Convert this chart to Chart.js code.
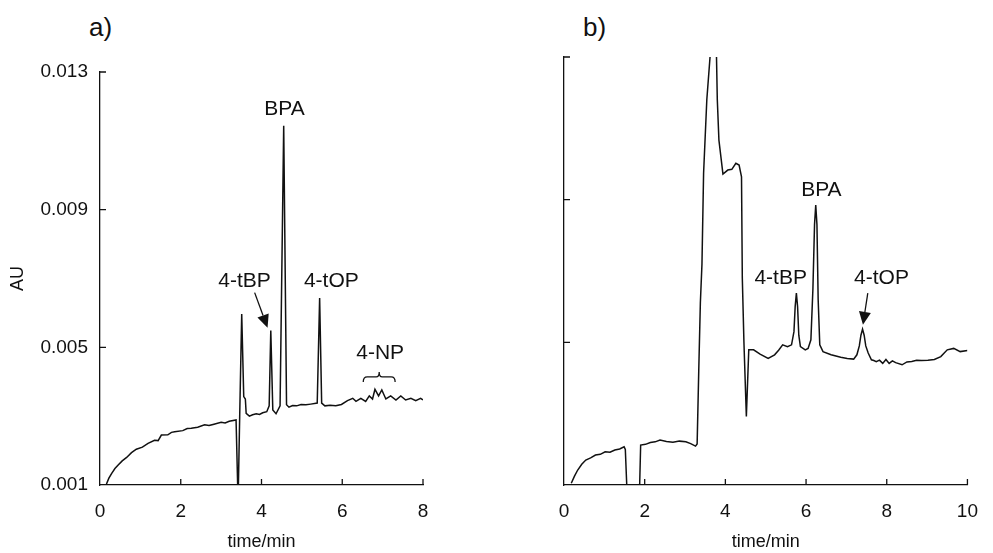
<!DOCTYPE html>
<html>
<head>
<meta charset="utf-8">
<script src="https://cdn.jsdelivr.net/npm/chart.js@4.4.1/dist/chart.umd.min.js"></script>
<style>
  body { margin: 0; background: #fff; width: 993px; height: 553px; overflow: hidden; position: relative;
         font-family: "Liberation Sans", Arial, sans-serif; }
  canvas { position: absolute; top: 0; }
  #chartA { left: 0; }
  #chartB { left: 500px; }
  .panel { position: absolute; top: 14px; font-size: 26px; line-height: 1; color: #111; }
</style>
</head>
<body>
<div class="panel" style="left:89px">a)</div>
<div class="panel" style="left:583px">b)</div>
<canvas id="chartA" width="480" height="553"></canvas>
<canvas id="chartB" width="493" height="553"></canvas>
<script>
// panel a: chromatogram, time (min) vs absorbance (AU)
const aTime = [0.16, 0.22, 0.29, 0.37, 0.45, 0.55, 0.66, 0.78, 0.90, 1.05, 1.19, 1.35, 1.44, 1.52, 1.68, 1.77, 1.85, 2.05,
  2.16, 2.26, 2.42, 2.59, 2.70, 2.80, 3.00, 3.10, 3.20, 3.37,
  3.42, 3.46, 3.51, 3.56, 3.60, 3.62, 3.70, 3.78, 3.87, 3.95, 4.03, 4.13, 4.19, 4.23, 4.28, 4.36, 4.46, 4.55, 4.62, 4.68,
  4.77, 4.87, 4.98, 5.10, 5.22, 5.38, 5.44, 5.49, 5.57, 5.70, 5.84, 5.98, 6.13, 6.26, 6.34, 6.46, 6.58, 6.67, 6.75, 6.81,
  6.90, 6.98, 7.08, 7.20, 7.33, 7.45, 7.57, 7.70, 7.82, 7.94, 8.00];
const aSignal = [0.00103, 0.00120, 0.00134, 0.00148, 0.00158, 0.00170, 0.00180, 0.00194, 0.00204, 0.00210, 0.00221,
  0.00230, 0.00229, 0.00245, 0.00246, 0.00253, 0.00255, 0.00258, 0.00264, 0.00265, 0.00268, 0.00275, 0.00273, 0.00276,
  0.00282, 0.00280, 0.00285, 0.00289,
  0.00050, 0.00300, 0.00597, 0.00357, 0.00350, 0.00308, 0.00300, 0.00304, 0.00307, 0.00305, 0.00310, 0.00313, 0.00330,
  0.00549, 0.00318, 0.00307, 0.00330, 0.01144, 0.00333, 0.00326,
  0.00331, 0.00330, 0.00334, 0.00333, 0.00335, 0.00338, 0.00643, 0.00338, 0.00330, 0.00332, 0.00330, 0.00334, 0.00345,
  0.00352, 0.00343, 0.00352, 0.00343, 0.00359, 0.00350, 0.00378,
  0.00359, 0.00376, 0.00350, 0.00359, 0.00347, 0.00359, 0.00347, 0.00352, 0.00345, 0.00352, 0.00347];

// panel b
const bTime = [0.18, 0.26, 0.34, 0.44, 0.54, 0.66, 0.78, 0.90, 1.02, 1.14, 1.26, 1.38, 1.49, 1.52, 1.58, 1.86, 1.90, 2.02,
  2.14, 2.26, 2.38, 2.54, 2.70, 2.86, 3.02, 3.14, 3.26, 3.30, 3.34,
  3.38, 3.42, 3.46, 3.54, 3.62, 3.70, 3.78, 3.80, 3.84, 3.94, 4.06, 4.16, 4.26, 4.34, 4.40, 4.42, 4.46, 4.52, 4.58, 4.70,
  4.86, 5.06, 5.22, 5.32, 5.42, 5.54, 5.64, 5.70, 5.73, 5.76, 5.79, 5.82, 5.86, 5.98, 6.05, 6.12, 6.17, 6.21, 6.24, 6.27,
  6.30, 6.34, 6.42, 6.62, 6.86, 7.02, 7.18, 7.26, 7.32, 7.36, 7.40, 7.44, 7.48, 7.54, 7.62, 7.68, 7.74, 7.82, 7.90, 7.98,
  8.06, 8.14, 8.22, 8.38, 8.50, 8.62, 8.74, 8.86, 9.02, 9.18, 9.34, 9.50, 9.66, 9.82, 10.00];
const bSignal = [0.00105, 0.00125, 0.00142, 0.00158, 0.00170, 0.00176, 0.00184, 0.00186, 0.00193, 0.00192, 0.00198,
  0.00201, 0.00207, 0.00200, 0.00030, 0.00030, 0.00212, 0.00214, 0.00219, 0.00221, 0.00226, 0.00222, 0.00220, 0.00223,
  0.00221, 0.00216, 0.00209, 0.00215, 0.00420,
  0.00610, 0.00720, 0.00974, 0.01180, 0.01300, 0.01600, 0.01300, 0.01180, 0.01067, 0.00972, 0.00983, 0.00985, 0.01002,
  0.00997, 0.00964, 0.00680, 0.00500, 0.00292, 0.00479, 0.00479,
  0.00467, 0.00455, 0.00465, 0.00478, 0.00493, 0.00488, 0.00493, 0.00530, 0.00600, 0.00638, 0.00600, 0.00520, 0.00488,
  0.00479, 0.00483, 0.00507, 0.00650, 0.00830, 0.00885, 0.00830, 0.00620, 0.00493, 0.00474, 0.00465, 0.00458, 0.00455,
  0.00453, 0.00465, 0.00490, 0.00520, 0.00537, 0.00520, 0.00490, 0.00470, 0.00451, 0.00449, 0.00446, 0.00450, 0.00441,
  0.00452, 0.00441, 0.00448, 0.00443, 0.00437, 0.00445, 0.00446, 0.00450, 0.00449, 0.00450, 0.00452, 0.00460, 0.00479,
  0.00483, 0.00474, 0.00477];

const aXTicks = [0, 2, 4, 6, 8];
const bXTicks = [0, 2, 4, 6, 8, 10];
const yTicks = [0.001, 0.005, 0.009, 0.013];

// peak labels: [text, time, AU]
const aLabels = [['BPA', 4.57, 0.01191], ['4-tBP', 3.58, 0.00693], ['4-tOP', 5.73, 0.00693], ['4-NP', 6.94, 0.00484]];
const bLabels = [['BPA', 6.38, 0.00927], ['4-tBP', 5.37, 0.00680], ['4-tOP', 7.87, 0.00680]];
// arrows: [fromTime, fromAU, toTime, toAU]
const aArrows = [[3.83, 0.00659, 4.15, 0.00557]];
const bArrows = [[7.53, 0.00638, 7.41, 0.00549]];
// braces: [startTime, endTime, AU]
const aBraces = [[6.52, 7.31, 0.00414]];

const INK = '#111';
const FONT = '"Liberation Sans", Arial, sans-serif';

const decorate = {
  id: 'decorate',
  afterDraw(chart, args, o) {
    const {ctx} = chart;
    const x = chart.scales.x, y = chart.scales.y;
    ctx.save();
    ctx.strokeStyle = INK;
    ctx.fillStyle = INK;
    ctx.lineWidth = 1.3;
    // inward tick marks
    ctx.beginPath();
    o.xTicks.forEach(v => {
      if (v === x.min) return;
      const px = x.getPixelForValue(v);
      ctx.moveTo(px, y.bottom); ctx.lineTo(px, y.bottom - 6);
    });
    o.yTicks.forEach(v => {
      if (v === y.min) return;
      const py = y.getPixelForValue(v);
      ctx.moveTo(x.left, py); ctx.lineTo(x.left + 6, py);
    });
    ctx.stroke();

    ctx.font = '21px ' + FONT;
    ctx.textAlign = 'center';
    ctx.textBaseline = 'middle';
    o.labels.forEach(([t, tx, ty]) => ctx.fillText(t, x.getPixelForValue(tx), y.getPixelForValue(ty)));

    o.arrows.forEach(([x0, y0, x1, y1]) => {
      const ax = x.getPixelForValue(x0), ay = y.getPixelForValue(y0);
      const bx = x.getPixelForValue(x1), by = y.getPixelForValue(y1);
      const ang = Math.atan2(by - ay, bx - ax);
      const hl = 13, hw = 6;
      const cx = bx - hl * Math.cos(ang), cy = by - hl * Math.sin(ang);
      ctx.beginPath();
      ctx.moveTo(ax, ay); ctx.lineTo(cx, cy);
      ctx.stroke();
      ctx.beginPath();
      ctx.moveTo(bx, by);
      ctx.lineTo(cx + hw * Math.sin(ang), cy - hw * Math.cos(ang));
      ctx.lineTo(cx - hw * Math.sin(ang), cy + hw * Math.cos(ang));
      ctx.closePath();
      ctx.fill();
    });

    o.braces.forEach(([t0, t1, v]) => {
      const l = x.getPixelForValue(t0), r = x.getPixelForValue(t1);
      const m = (l + r) / 2, py = y.getPixelForValue(v);
      ctx.beginPath();
      ctx.moveTo(l, py + 5);
      ctx.quadraticCurveTo(l, py, l + 4, py);
      ctx.lineTo(m - 3, py);
      ctx.quadraticCurveTo(m, py, m, py - 5);
      ctx.quadraticCurveTo(m, py, m + 3, py);
      ctx.lineTo(r - 4, py);
      ctx.quadraticCurveTo(r, py, r, py + 5);
      ctx.stroke();
    });
    ctx.restore();
  }
};

function makeChart(id, time, signal, xMax, xTicks, opts) {
  return new Chart(document.getElementById(id), {
    type: 'line',
    data: {
      datasets: [{
        data: time.map((t, i) => ({x: t, y: signal[i]})),
        borderColor: INK, borderWidth: 1.5, pointRadius: 0, tension: 0, fill: false
      }]
    },
    options: {
      responsive: false, animation: false, events: [],
      layout: {padding: {top: opts.top, right: opts.right, left: 0, bottom: 0}},
      plugins: {
        legend: {display: false}, tooltip: {enabled: false},
        decorate: {xTicks: xTicks, yTicks: yTicks, labels: opts.labels, arrows: opts.arrows, braces: opts.braces}
      },
      scales: {
        x: {
          type: 'linear', min: 0, max: xMax,
          afterBuildTicks: s => { s.ticks = xTicks.map(v => ({value: v})); },
          afterFit: s => { s.height = 68; },
          grid: {drawOnChartArea: false, drawTicks: false},
          border: {display: true, color: INK, width: 1.3},
          ticks: {color: INK, font: {size: 19, family: FONT}, padding: 15,
                  maxRotation: 0, autoSkip: false, callback: v => String(v)},
          title: {display: true, text: 'time/min', color: INK,
                  font: {size: 18, family: FONT}, padding: {top: 0, bottom: 0}}
        },
        y: {
          type: 'linear', min: 0.001, max: 0.013,
          afterBuildTicks: s => { s.ticks = yTicks.map(v => ({value: v})); },
          afterFit: s => { s.width = opts.yWidth; },
          grid: {drawOnChartArea: false, drawTicks: false},
          border: {display: true, color: INK, width: 1.3},
          ticks: {display: opts.showY, color: INK, font: {size: 19, family: FONT},
                  padding: 12, callback: v => v.toFixed(3)},
          title: {display: opts.showY, text: 'AU', color: INK,
                  font: {size: 18, family: FONT}, padding: {top: 7, bottom: 0}}
        }
      }
    },
    plugins: [decorate]
  });
}

makeChart('chartA', aTime, aSignal, 8, aXTicks,
  {top: 72, right: 57, yWidth: 100, showY: true, labels: aLabels, arrows: aArrows, braces: aBraces});
makeChart('chartB', bTime, bSignal, 10, bXTicks,
  {top: 57, right: 12, yWidth: 64, showY: false, labels: bLabels, arrows: bArrows, braces: []});
</script>
</body>
</html>
